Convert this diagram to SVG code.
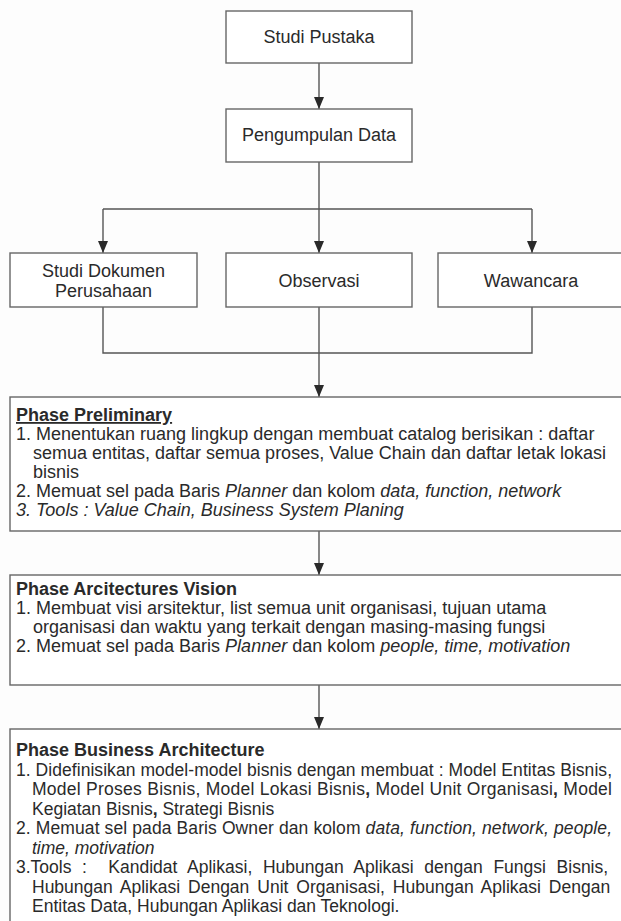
<svg xmlns="http://www.w3.org/2000/svg" width="621" height="921" viewBox="0 0 621 921">
<defs>
<marker id="arr" viewBox="0 0 12 10" refX="12" refY="5" markerWidth="12" markerHeight="10" markerUnits="userSpaceOnUse" orient="auto">
<path d="M0,0 L12,5 L0,10 Z" fill="#2a2a2a"/>
</marker>
<style>
.box{fill:#fff;stroke:#666;stroke-width:1.4}
.c{fill:none;stroke:#555;stroke-width:1.4}
.t{font-family:"Liberation Sans",Arial,sans-serif;font-size:18px;fill:#2a2a2a;text-anchor:middle}
.b{font-family:"Liberation Sans",Arial,sans-serif;font-size:18px;fill:#2a2a2a}
.s{font-size:17.5px}
.h{font-weight:bold}
.i{font-style:italic}
</style>
</defs>
<rect width="621" height="921" fill="#fdfdfd"/>
<g id="connectors">
<line class="c" x1="319" y1="63" x2="319" y2="109" marker-end="url(#arr)"/>
<path class="c" d="M319,162 V209 M103,209 H532"/>
<line class="c" x1="103" y1="209" x2="103" y2="253" marker-end="url(#arr)"/>
<line class="c" x1="319" y1="209" x2="319" y2="253" marker-end="url(#arr)"/>
<line class="c" x1="532" y1="209" x2="532" y2="253" marker-end="url(#arr)"/>
<path class="c" d="M103,307 V353 H532 V307"/>
<line class="c" x1="319" y1="307" x2="319" y2="397" marker-end="url(#arr)"/>
<line class="c" x1="319" y1="531" x2="319" y2="575" marker-end="url(#arr)"/>
<line class="c" x1="319" y1="685" x2="319" y2="729" marker-end="url(#arr)"/>
</g>
<g id="studi-pustaka">
<rect class="box" x="226" y="11" width="186" height="52"/>
<text class="t" x="319" y="43">Studi Pustaka</text>
</g>
<g id="pengumpulan-data">
<rect class="box" x="226" y="109" width="186" height="53"/>
<text class="t" x="319" y="141">Pengumpulan Data</text>
</g>
<g id="studi-dokumen">
<rect class="box" x="10" y="253" width="187" height="54"/>
<text class="t" x="103.5" y="277">Studi Dokumen</text>
<text class="t" x="103.5" y="297">Perusahaan</text>
</g>
<g id="observasi">
<rect class="box" x="226" y="253" width="186" height="54"/>
<text class="t" x="319" y="287">Observasi</text>
</g>
<g id="wawancara">
<rect class="box" x="438" y="253" width="190" height="54"/>
<text class="t" x="531" y="287">Wawancara</text>
</g>
<g id="phase-preliminary">
<rect class="box" x="10" y="397" width="618" height="134"/>
<text class="b h" x="16" y="421" text-decoration="underline">Phase Preliminary</text>
<text class="b" x="16" y="440">1. Menentukan ruang lingkup dengan membuat catalog berisikan : daftar</text>
<text class="b" x="33" y="459">semua entitas, daftar semua proses, Value Chain dan daftar letak lokasi</text>
<text class="b" x="33" y="478">bisnis</text>
<text class="b" x="16" y="497">2. Memuat sel pada Baris <tspan class="i">Planner</tspan> dan kolom <tspan class="i">data, function, network</tspan></text>
<text class="b i" x="16" y="516">3. Tools : Value Chain, Business System Planing</text>
</g>
<g id="phase-architectures-vision">
<rect class="box" x="10" y="575" width="618" height="110"/>
<text class="b h" x="16" y="595">Phase Arcitectures Vision</text>
<text class="b" x="16" y="614">1. Membuat visi arsitektur, list semua unit organisasi, tujuan utama</text>
<text class="b" x="33" y="633">organisasi dan waktu yang terkait dengan masing-masing fungsi</text>
<text class="b" x="16" y="652">2. Memuat sel pada Baris <tspan class="i">Planner</tspan> dan kolom <tspan class="i">people, time, motivation</tspan></text>
</g>
<g id="phase-business-architecture">
<rect class="box" x="10" y="729" width="618" height="200"/>
<text class="b h" x="16" y="756">Phase Business Architecture</text>
<text class="b s" x="16" y="775.5" textLength="596" lengthAdjust="spacing">1. Didefinisikan model-model bisnis dengan membuat : Model Entitas Bisnis,</text>
<text class="b s" x="32" y="795" textLength="580" lengthAdjust="spacing">Model Proses Bisnis, Model Lokasi Bisnis<tspan class="h">,</tspan> Model Unit Organisasi<tspan class="h">,</tspan> Model</text>
<text class="b s" x="32" y="814.5">Kegiatan Bisnis<tspan class="h">,</tspan> Strategi Bisnis</text>
<text class="b s" x="16" y="834" textLength="596" lengthAdjust="spacing">2. Memuat sel pada Baris Owner dan kolom <tspan class="i">data, function, network, people,</tspan></text>
<text class="b s i" x="32" y="853.5">time, motivation</text>
<text class="b s" x="16" y="873" xml:space="preserve" word-spacing="5.8">3.Tools :  Kandidat Aplikasi, Hubungan Aplikasi dengan Fungsi Bisnis,</text>
<text class="b s" x="32" y="892.5" word-spacing="3.1">Hubungan Aplikasi Dengan Unit Organisasi, Hubungan Aplikasi Dengan</text>
<text class="b s" x="32" y="912">Entitas Data, Hubungan Aplikasi dan Teknologi.</text>
</g>
</svg>
